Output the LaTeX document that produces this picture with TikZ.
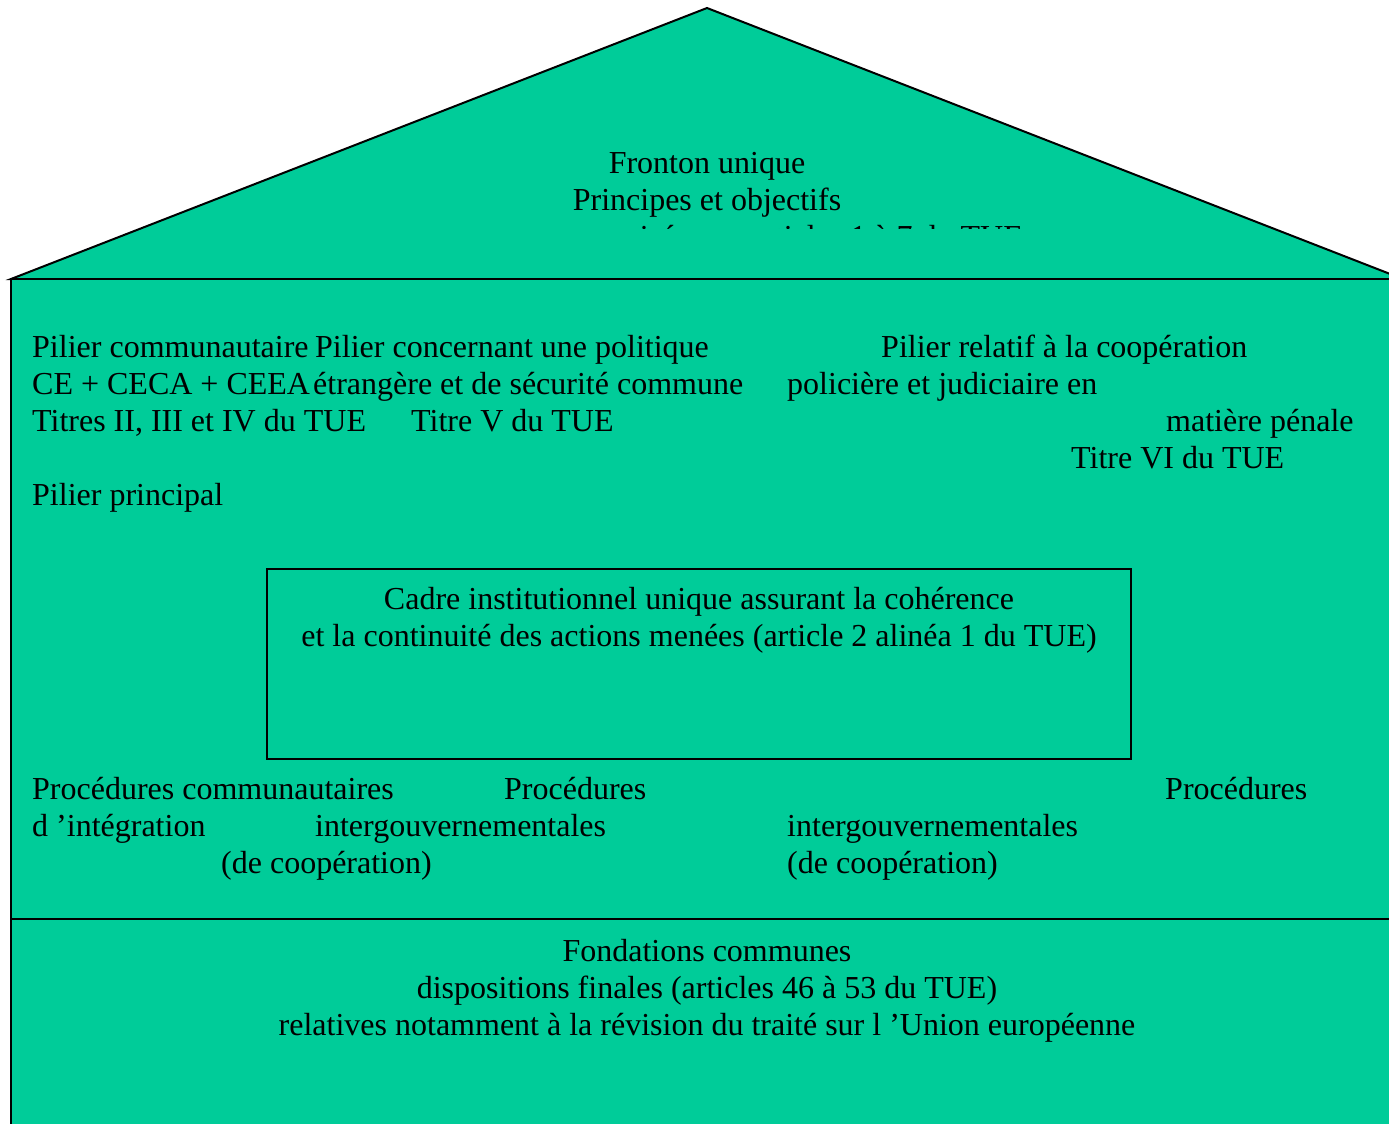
\documentclass[tikz,border=0pt]{standalone}
\usepackage{fontspec}
\setmainfont{Liberation Serif}
\definecolor{fronton}{RGB}{0,204,153}

\begin{document}
\begin{tikzpicture}[x = 1pt, y = -1pt,
    mur/.style = {fill = fronton, draw = black, line width = 2pt, line join = miter},
    txt/.style = {anchor = base west, inner sep = 0pt, font = \fontsize{32}{37}\selectfont},
    ctxt/.style = {anchor = base, inner sep = 0pt, align = center, font = \fontsize{32}{37}\selectfont}]
    \useasboundingbox (0,0) rectangle (1389,1124);
    \clip (0,0) rectangle (1389,1124);

    \fill[white] (0,0) rectangle (1389,1124);

    \draw[mur] (11,279) -- (707,8) -- (1403,279) -- cycle;
    \draw[mur] (11,279) rectangle (1403,1150);
    \draw[line width = 2pt] (11,919) -- (1403,919);

    \begin{scope}
        \clip (11,100) rectangle (1389,228);
        \node[ctxt] (fronton) at (707,210) {Fronton unique\\Principes et objectifs};
        \node[txt, anchor = base east] (articles) at (1023,247) {visés aux articles 1 à 7 du TUE};
    \end{scope}

    \node[txt] (p1a) at (32,357) {Pilier communautaire};
    \node[txt] (p1b) at (32,394) {CE + CECA + CEEA};
    \node[txt] (p1c) at (32,431) {Titres II, III et IV du TUE};
    \node[txt] (p1d) at (32,505) {Pilier principal};

    \node[txt] (p2a) at (315,357) {Pilier concernant une politique};
    \node[txt] (p2b) at (313,394) {étrangère et de sécurité commune};
    \node[txt] (p2c) at (411,431) {Titre V du TUE};

    \node[txt] (p3a) at (881,357) {Pilier relatif à la coopération};
    \node[txt] (p3b) at (787,394) {policière et judiciaire en};
    \node[txt] (p3c) at (1166,431) {matière pénale};
    \node[txt] (p3d) at (1071,468) {Titre VI du TUE};

    \draw[line width = 2pt] (267,569) rectangle (1131,759);
    \node[ctxt] (cadre) at (699,646) {Cadre institutionnel unique assurant la cohérence\\et la continuité des actions menées (article 2 alinéa 1 du TUE)};

    \node[txt] (q1a) at (32,799) {Procédures communautaires};
    \node[txt] (q1b) at (32,836) {d 'intégration};
    \node[txt] (q2a) at (504,799) {Procédures};
    \node[txt] (q2b) at (315,836) {intergouvernementales};
    \node[txt] (q2c) at (221,873) {(de coopération)};
    \node[txt] (q3a) at (1165,799) {Procédures};
    \node[txt] (q3b) at (787,836) {intergouvernementales};
    \node[txt] (q3c) at (787,873) {(de coopération)};

    \node[ctxt] (fondations) at (707,1035) {Fondations communes\\dispositions finales (articles 46 à 53 du TUE)\\relatives notamment à la révision du traité sur l 'Union européenne};
\end{tikzpicture}
\end{document}
